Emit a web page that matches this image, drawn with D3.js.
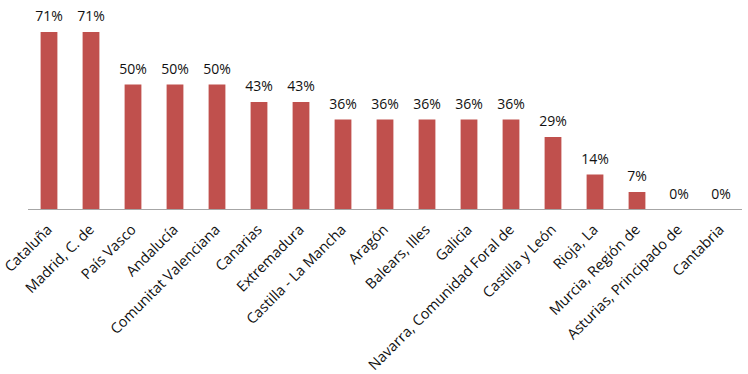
<!DOCTYPE html>
<html>
<head>
<meta charset="utf-8">
<script src="https://cdn.jsdelivr.net/npm/d3@7"></script>
<style>
  html, body { margin: 0; padding: 0; background: #fff; }
  svg text { font-family: "Open Sans", "Noto Sans", sans-serif; fill: #111; }
</style>
</head>
<body>
<div id="chart"></div>
<script>
// data
var regions = ['Cataluña', 'Madrid, C. de', 'País Vasco', 'Andalucía', 'Comunitat Valenciana',
    'Canarias', 'Extremadura', 'Castilla - La Mancha', 'Aragón', 'Balears, Illes', 'Galicia',
    'Navarra, Comunidad Foral de', 'Castilla y León', 'Rioja, La', 'Murcia, Región de',
    'Asturias, Principado de', 'Cantabria'];
var shares = [0.71, 0.71, 0.50, 0.50, 0.50, 0.43, 0.43, 0.36, 0.36, 0.36, 0.36, 0.36,
    0.29, 0.14, 0.07, 0, 0];

var width = 748,
    height = 374,
    left = 28,
    right = 742,
    baseline = 209.5;

var svg = d3.select('#chart').append('svg')
    .attr('width', width)
    .attr('height', height);

var x = d3.scaleBand()
    .domain(regions)
    .range([left, right])
    .paddingInner(0.6)
    .paddingOuter(0.3);

var y = d3.scaleLinear()
    .domain([0, 0.8])
    .range([baseline, baseline - 200]);

var fmt = d3.format('.0%');

svg.append('g').selectAll('rect')
    .data(regions)
    .enter().append('rect')
    .attr('x', function(d) { return x(d); })
    .attr('width', x.bandwidth())
    .attr('y', function(d, i) { return y(shares[i]); })
    .attr('height', function(d, i) { return baseline - y(shares[i]); })
    .attr('fill', '#c0504d');

svg.append('line')
    .attr('x1', left)
    .attr('x2', right)
    .attr('y1', baseline)
    .attr('y2', baseline)
    .attr('stroke', '#a6a6a6')
    .attr('stroke-width', 1);

// value labels above bars
svg.append('g').selectAll('text')
    .data(regions)
    .enter().append('text')
    .attr('x', function(d) { return x(d) + x.bandwidth() / 2; })
    .attr('y', function(d, i) { return y(shares[i]) - 11; })
    .attr('text-anchor', 'middle')
    .style('font-size', '14px')
    .text(function(d, i) { return fmt(shares[i]); });

// rotated category labels
svg.append('g').selectAll('text')
    .data(regions)
    .enter().append('text')
    .attr('transform', function(d) {
        var cx = x(d) + x.bandwidth() / 2;
        return 'translate(' + (cx + 4) + ',' + (baseline + 21) + ') rotate(-45)';
    })
    .attr('text-anchor', 'end')
    .style('font-size', '14.5px')
    .text(function(d) { return d; });
</script>
</body>
</html>
